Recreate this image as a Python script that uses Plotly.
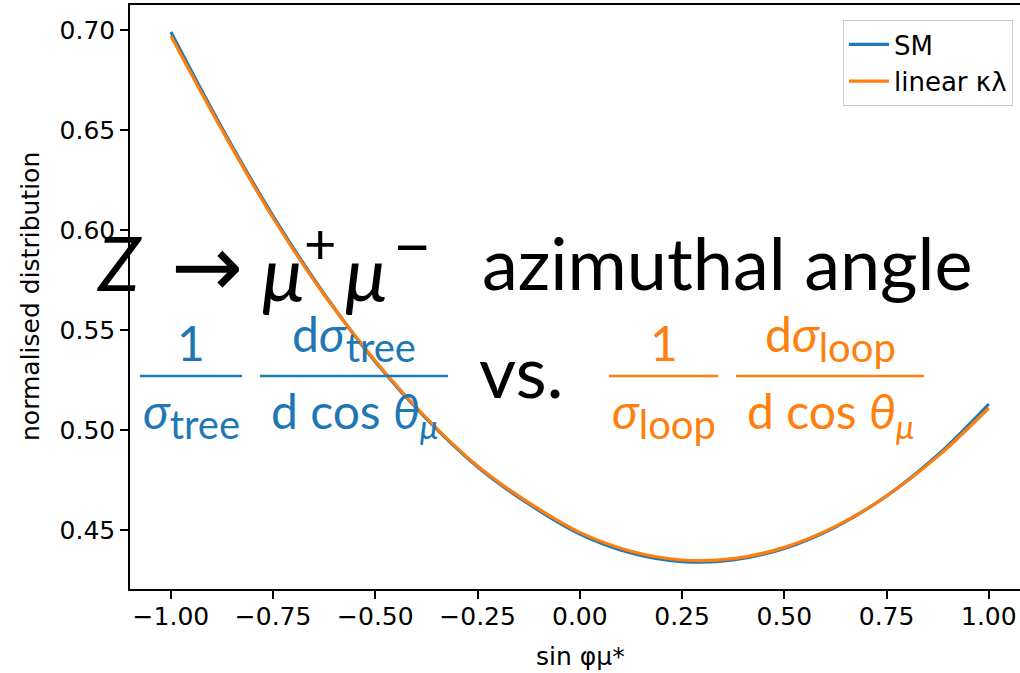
import plotly.graph_objects as go

# ---- data ----
x_vals = [-1.0, -0.875, -0.75, -0.625, -0.5, -0.375, -0.25, -0.125, 0.0,
          0.125, 0.25, 0.375, 0.5, 0.625, 0.75, 0.875, 1.0]
sm_vals = [0.699, 0.651, 0.607, 0.568, 0.534, 0.5055, 0.4815, 0.463, 0.448,
           0.4385, 0.4342, 0.4350, 0.4408, 0.4515, 0.4670, 0.4875, 0.513]
lin_vals = [0.697, 0.650, 0.606, 0.5675, 0.5345, 0.506, 0.482, 0.4637, 0.4488,
            0.4394, 0.4350, 0.4357, 0.4413, 0.4518, 0.4670, 0.4868, 0.511]
series_names = ["SM", "linear κλ"]
x_ticks = [-1.0, -0.75, -0.5, -0.25, 0.0, 0.25, 0.5, 0.75, 1.0]
y_ticks = [0.45, 0.50, 0.55, 0.60, 0.65, 0.70]

BLUE = "#1f77b4"
ORANGE = "#ff7f0e"
W, H = 1020, 673
L, R, T, B = 130, 0, 5, 84
PW, PH = W - L - R, H - T - B


def px(xp):
    return (xp - L) / PW


def py(yp):
    return (H - B - yp) / PH


fig = go.Figure()
fig.add_trace(go.Scatter(x=x_vals, y=sm_vals, mode="lines", name=series_names[0],
                         line=dict(color=BLUE, width=3.2, shape="spline")))
fig.add_trace(go.Scatter(x=x_vals, y=lin_vals, mode="lines", name=series_names[1],
                         line=dict(color=ORANGE, width=3.2, shape="spline")))

TICKFONT = dict(family="DejaVu Sans", size=25, color="black")

fig.update_layout(
    width=W, height=H,
    margin=dict(l=L, r=R, t=T, b=B, pad=0),
    paper_bgcolor="white", plot_bgcolor="white",
    showlegend=True,
    legend=dict(x=px(1013), y=py(20), xanchor="right", yanchor="top",
                bgcolor="white", bordercolor="#cccccc", borderwidth=1,
                font=dict(family="DejaVu Sans", size=26, color="black"),
                itemwidth=40, tracegroupgap=0),
    xaxis=dict(range=[-1.1, 1.0763], tickvals=x_ticks, tickformat=".2f",
               showgrid=False, zeroline=False, showline=True, linecolor="black",
               linewidth=1.5, mirror=True, ticks="outside", ticklen=8,
               tickwidth=1.5, tickcolor="black", tickfont=TICKFONT,
               ticklabelstandoff=-4),
    yaxis=dict(range=[0.4205, 0.7125], tickvals=y_ticks, tickformat=".2f",
               showgrid=False, zeroline=False, showline=True, linecolor="black",
               linewidth=1.5, mirror=False, ticks="outside", ticklen=8,
               tickwidth=1.5, tickcolor="black", tickfont=TICKFONT),
)

ann = []


def text(t, x, y, size, color="black", xa="center", ya="middle", family="Lato", angle=0):
    ann.append(dict(text=t, x=px(x), y=py(y), xref="paper", yref="paper",
                    showarrow=False, xanchor=xa, yanchor=ya, textangle=angle,
                    font=dict(family=family, size=size, color=color)))


# axis titles
text("sin φμ*", 580, 656, 25, family="DejaVu Sans")
text("normalised distribution", 30, 297, 25, family="DejaVu Sans", angle=-90)

# big title line: Z -> mu+ mu-  azimuthal angle
text("<i>Z</i>", 95, 261, 76, xa="left")
text("→", 207, 266, 86, family="DejaVu Sans")
text("<i>μ</i>", 283, 273, 76)
text("+", 320, 242, 56)
text("<i>μ</i>", 366, 273, 76)
text("−", 412, 244, 66)
text("azimuthal angle", 480, 262, 72, xa="left")
text("vs.", 521, 370, 72)

FS = 48
shapes = []


def fraction(num, den, xl, xr, color):
    cx = (xl + xr) / 2
    text(num, cx, 373, FS, color=color, ya="bottom")
    text(den, cx, 380, FS, color=color, ya="top")
    shapes.append(dict(type="line", xref="paper", yref="paper",
                       x0=px(xl), x1=px(xr), y0=py(376), y1=py(376),
                       line=dict(color=color, width=2.5)))


SUB = '<sub><span style="font-size:40px">{}</span></sub>'
fraction("1", "<i>σ</i>" + SUB.format("tree"), 140, 242, BLUE)
fraction("d<i>σ</i>" + SUB.format("tree"), "d cos <i>θ</i><sub><i>μ</i></sub>", 260, 448, BLUE)
fraction("1", "<i>σ</i>" + SUB.format("loop"), 609, 718, ORANGE)
fraction("d<i>σ</i>" + SUB.format("loop"), "d cos <i>θ</i><sub><i>μ</i></sub>", 736, 924, ORANGE)

fig.update_layout(annotations=ann, shapes=shapes)
fig.write_html("out.html")
